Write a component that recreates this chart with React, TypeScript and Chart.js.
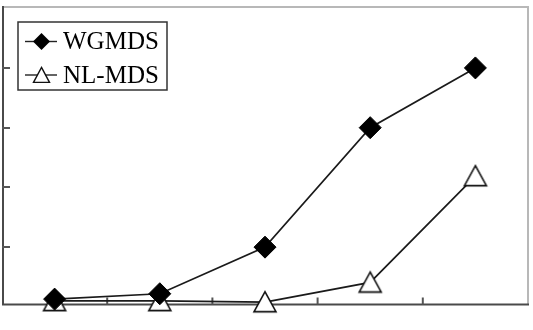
import React, { useEffect, useRef } from "react";
import { Chart, registerables } from "chart.js";

Chart.register(...registerables);

const categories = ["1", "2", "3", "4", "5"];
const wgmdsValues = [0.13, 0.22, 1.0, 3.0, 4.0];
const nlmdsValues = [0.1, 0.1, 0.08, 0.41, 2.19];
const seriesLabels = ["WGMDS", "NL-MDS"];
const yTickValues = [1, 2, 3, 4];
const Y_MIN = 0.04;
const Y_MAX = 5.02;

function makeTriangle(w: number, h: number, lw: number): HTMLCanvasElement {
  const c = document.createElement("canvas");
  const pad = lw + 1;
  c.width = Math.ceil(w + pad * 2);
  c.height = Math.ceil(h + pad * 2);
  const ctx = c.getContext("2d")!;
  ctx.lineWidth = lw;
  ctx.strokeStyle = "#111";
  ctx.fillStyle = "#fff";
  ctx.lineJoin = "miter";
  ctx.beginPath();
  ctx.moveTo(c.width / 2, pad);
  ctx.lineTo(c.width / 2 + w / 2, pad + h);
  ctx.lineTo(c.width / 2 - w / 2, pad + h);
  ctx.closePath();
  ctx.fill();
  ctx.stroke();
  return c;
}

function drawDiamond(ctx: CanvasRenderingContext2D, x: number, y: number, r: number) {
  ctx.beginPath();
  ctx.moveTo(x - r, y);
  ctx.lineTo(x, y - r);
  ctx.lineTo(x + r, y);
  ctx.lineTo(x, y + r);
  ctx.closePath();
  ctx.fillStyle = "#000";
  ctx.fill();
}

export default function App() {
  const ref = useRef<HTMLCanvasElement | null>(null);

  useEffect(() => {
    if (!ref.current) return;
    const triBig = makeTriangle(22, 20, 1.6);
    const triSmall = makeTriangle(16, 15, 1.4);

    const framePlugin = {
      id: "frame",
      beforeDatasetsDraw(chart: any) {
        const { ctx, chartArea } = chart;
        const { left, right, top, bottom } = chartArea;
        const xs = chart.scales.x;
        const ys = chart.scales.y;
        ctx.save();
        ctx.lineWidth = 2;
        ctx.strokeStyle = "#b8b8b8";
        ctx.beginPath();
        ctx.moveTo(left + 1, top);
        ctx.lineTo(right, top);
        ctx.lineTo(right, bottom);
        ctx.stroke();
        ctx.strokeStyle = "#4a4a4a";
        ctx.beginPath();
        ctx.moveTo(left + 1, top - 1);
        ctx.lineTo(left + 1, bottom);
        ctx.lineTo(right + 1, bottom);
        ctx.stroke();
        ctx.lineWidth = 2;
        ctx.strokeStyle = "#555";
        for (const v of yTickValues) {
          const py = Math.round(ys.getPixelForValue(v));
          ctx.beginPath();
          ctx.moveTo(left, py);
          ctx.lineTo(left + 8, py);
          ctx.stroke();
        }
        for (let i = 0; i < categories.length - 1; i++) {
          const px = (xs.getPixelForValue(i) + xs.getPixelForValue(i + 1)) / 2;
          ctx.beginPath();
          ctx.moveTo(px, bottom);
          ctx.lineTo(px, bottom - 7);
          ctx.stroke();
        }
        ctx.restore();
      },
      afterDraw(chart: any) {
        const { ctx } = chart;
        ctx.save();
        ctx.lineWidth = 1.5;
        ctx.strokeStyle = "#333";
        ctx.strokeRect(18, 22, 149, 68);
        const rows = [41.5, 75];
        ctx.lineWidth = 1.4;
        ctx.strokeStyle = "#222";
        for (const ry of rows) {
          ctx.beginPath();
          ctx.moveTo(25, ry);
          ctx.lineTo(57, ry);
          ctx.stroke();
        }
        drawDiamond(ctx, 41.5, rows[0], 8.5);
        ctx.drawImage(triSmall, 41.5 - triSmall.width / 2, rows[1] - triSmall.height / 2);
        ctx.fillStyle = "#000";
        ctx.font = "25px 'Liberation Serif', 'Times New Roman', serif";
        ctx.textBaseline = "alphabetic";
        ctx.textAlign = "left";
        ctx.fillText(chart.data.datasets[0].label, 63, 48.5);
        ctx.fillText(chart.data.datasets[1].label, 63, 83);
        ctx.restore();
      },
    };

    const chart = new Chart(ref.current, {
      type: "line",
      data: {
        labels: categories,
        datasets: [
          {
            label: seriesLabels[0],
            data: wgmdsValues,
            borderColor: "#1a1a1a",
            borderWidth: 1.7,
            pointStyle: "rectRot",
            pointRadius: 11,
            pointBackgroundColor: "#000",
            pointBorderColor: "#000",
            pointBorderWidth: 1,
            clip: false as any,
            tension: 0,
          },
          {
            label: seriesLabels[1],
            data: nlmdsValues,
            borderColor: "#1a1a1a",
            borderWidth: 1.7,
            pointStyle: triBig as any,
            pointRadius: 11,
            clip: false as any,
            tension: 0,
          },
        ],
      },
      options: {
        responsive: false,
        animation: false,
        layout: { autoPadding: false, padding: { left: 2, right: 5, top: 7, bottom: 25.5 } },
        plugins: {
          legend: { display: false },
          tooltip: { enabled: false },
        },
        scales: {
          x: { type: "category", display: false, offset: true },
          y: { type: "linear", display: false, min: Y_MIN, max: Y_MAX },
        },
      },
      plugins: [framePlugin],
    });
    return () => chart.destroy();
  }, []);

  return (
    <div style={{ position: "absolute", left: 0, top: 0, width: 533, height: 330, background: "#fff" }}>
      <canvas ref={ref} width={533} height={330} style={{ display: "block" }} />
    </div>
  );
}
